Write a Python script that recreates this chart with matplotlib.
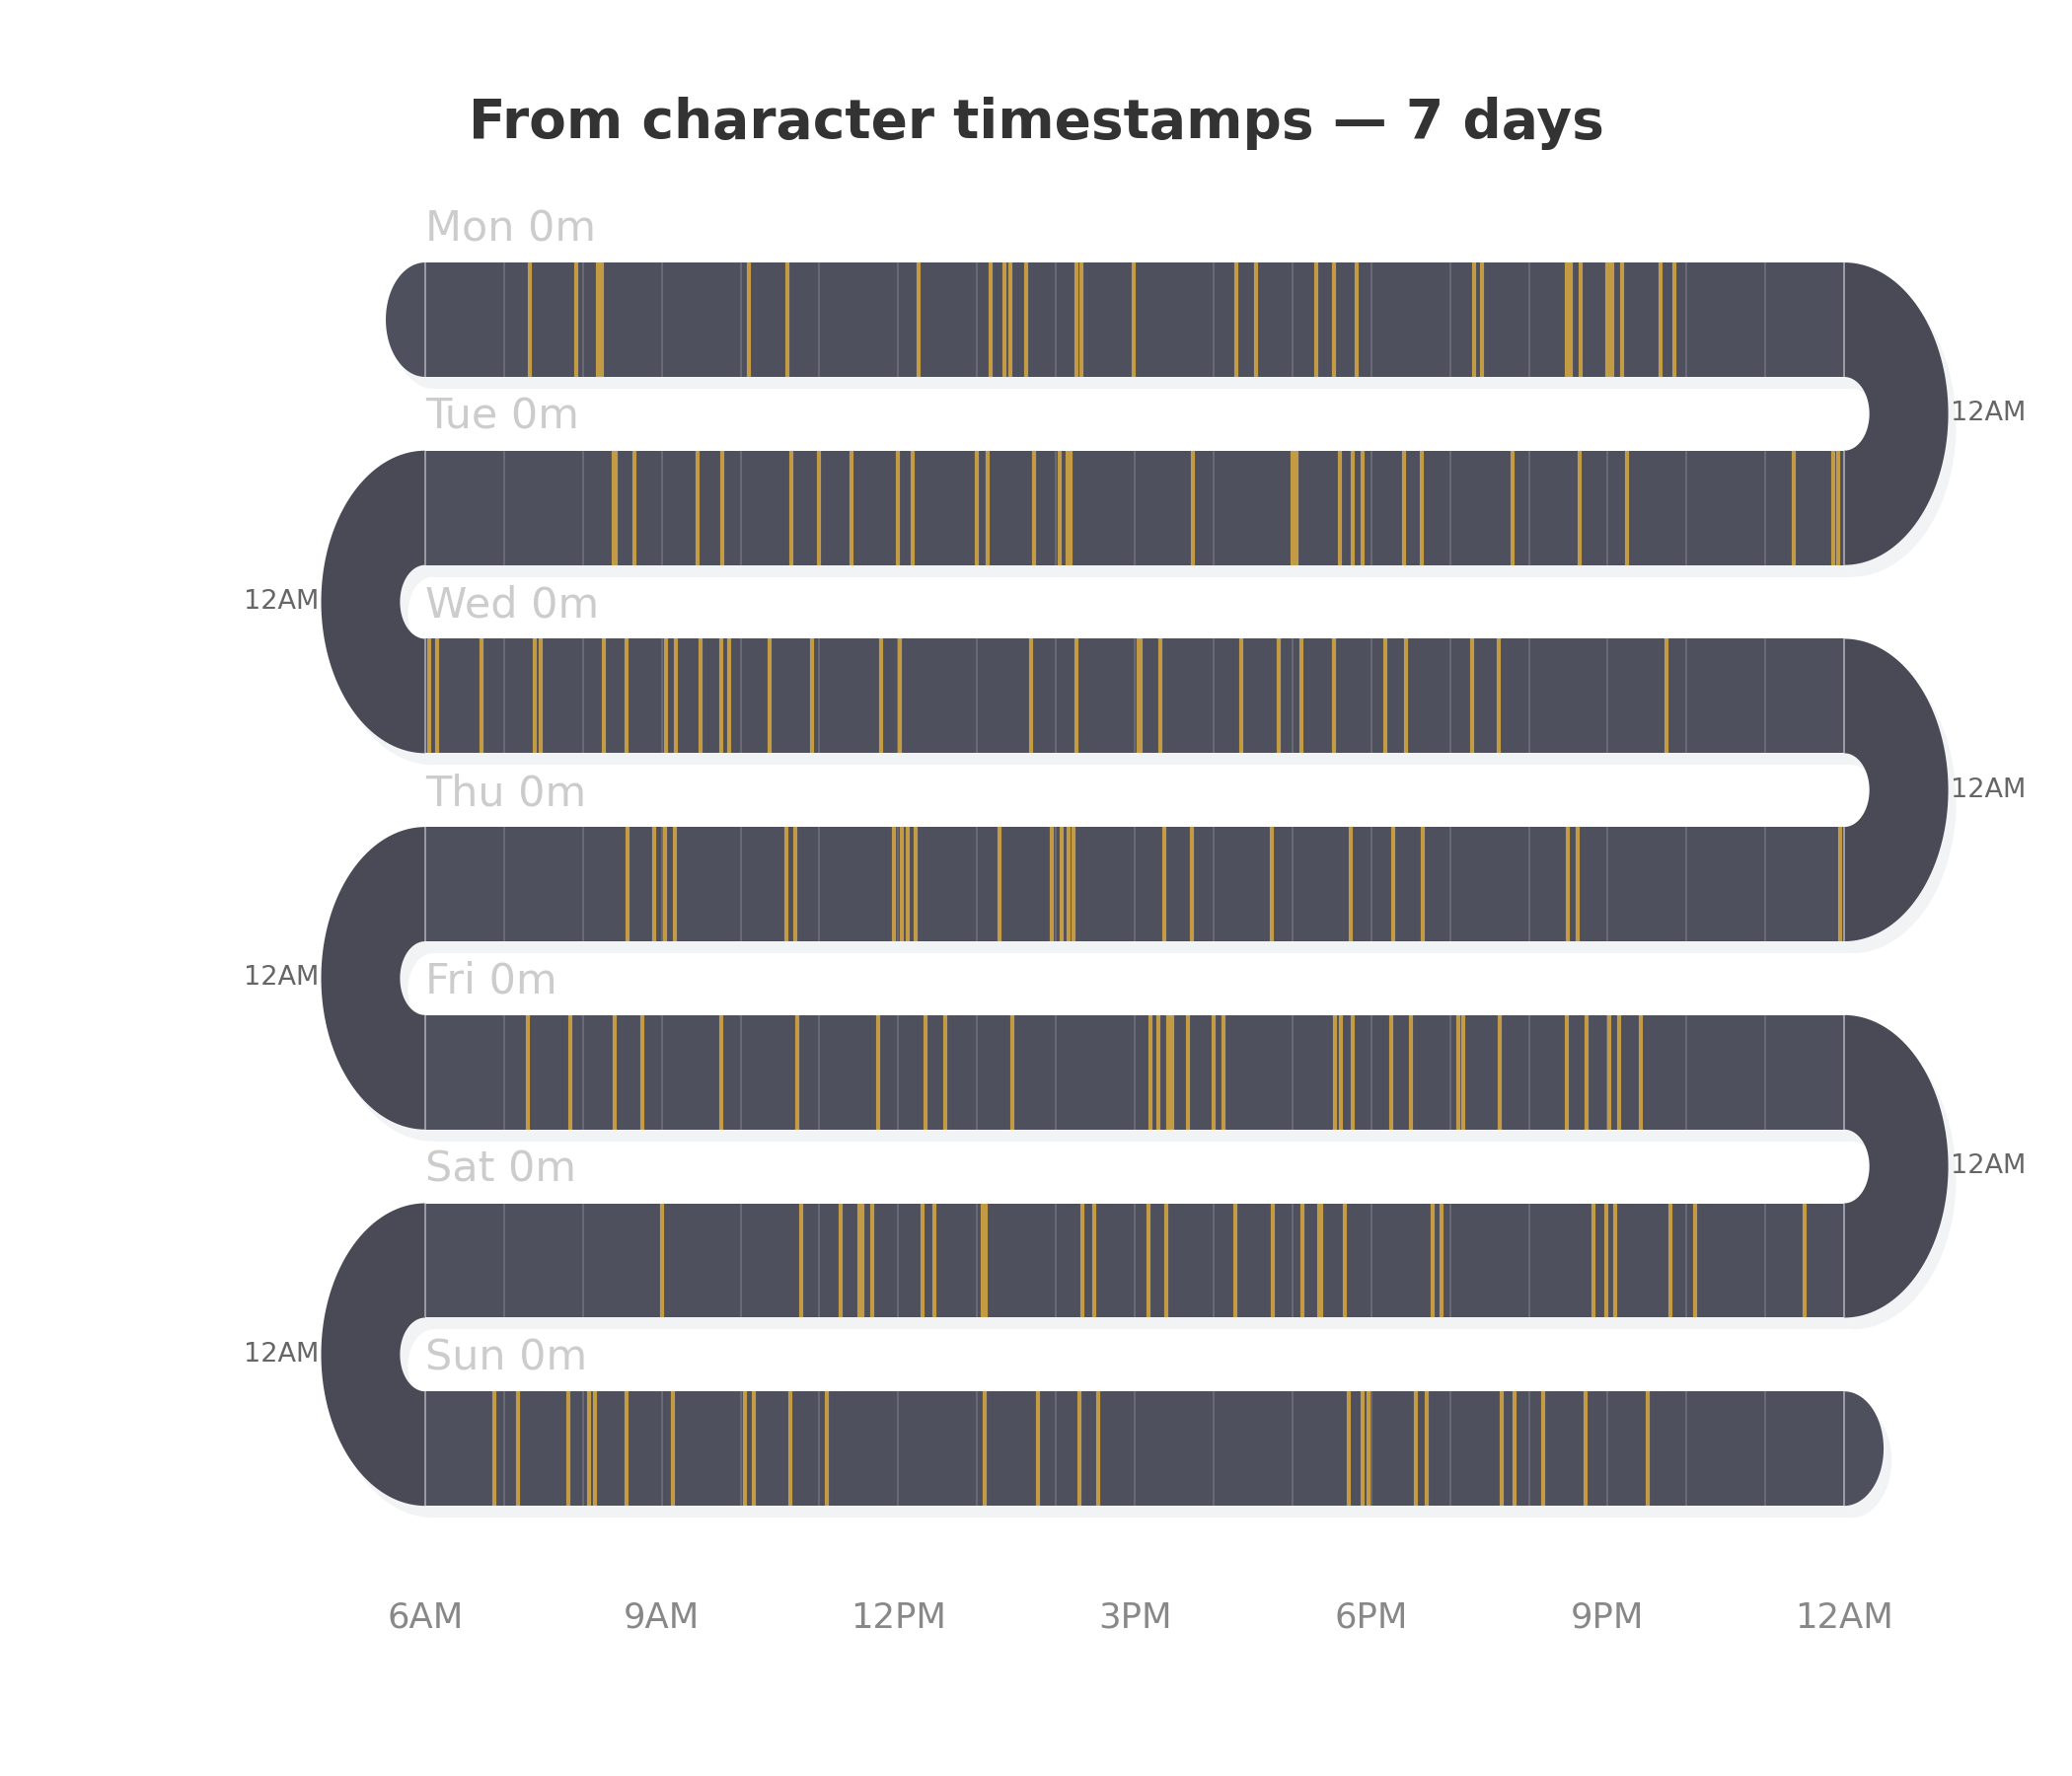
import numpy as np
import matplotlib
matplotlib.use("Agg")
import matplotlib.pyplot as plt
from matplotlib.patches import Polygon, Rectangle
from matplotlib import transforms

# ---- data: event times (decimal hour of day) per weekday ----
days = ["Mon", "Tue", "Wed", "Thu", "Fri", "Sat", "Sun"]
minutes = [0, 0, 0, 0, 0, 0, 0]

mon = [7.33, 7.91, 8.19, 8.24, 10.10, 10.59, 12.26, 13.17, 13.35, 13.42, 13.62, 14.26, 14.33,
       14.99, 16.29, 16.54, 17.30, 17.53, 17.81, 19.31, 19.40, 20.48, 20.53, 20.66, 20.99,
       21.02, 21.06, 21.18, 21.67, 21.85]
tue = [8.39, 8.42, 8.65, 9.46, 9.77, 10.65, 11.00, 11.41, 11.99, 12.18, 13.00, 13.13, 13.72,
       14.05, 14.15, 14.18, 15.74, 17.00, 17.05, 17.60, 17.76, 17.89, 18.42, 18.64, 19.79,
       20.65, 21.24, 23.36, 23.86, 23.92]
wed = [6.05, 6.15, 6.72, 7.39, 7.47, 8.27, 8.55, 9.06, 9.18, 9.49, 9.76, 9.86, 10.37, 10.91,
       11.78, 12.02, 13.69, 14.26, 15.05, 15.08, 15.32, 16.35, 16.83, 17.11, 17.53, 18.18,
       18.44, 19.28, 19.62, 21.74]
thu = [8.57, 8.91, 9.04, 9.17, 10.58, 10.70, 11.95, 12.05, 12.12, 12.22, 13.29, 13.95, 14.07,
       14.16, 14.22, 15.38, 15.73, 16.74, 17.74, 18.28, 18.65, 20.50, 20.62, 23.95]
fri = [7.30, 7.84, 8.40, 8.75, 9.76, 10.72, 11.74, 12.34, 12.60, 13.45, 15.20, 15.30, 15.43,
       15.47, 15.68, 16.00, 16.13, 17.54, 17.62, 17.76, 18.26, 18.50, 19.10, 19.17, 19.63,
       20.48, 20.73, 21.02, 21.14, 21.42]
sat = [9.01, 10.77, 11.27, 11.51, 11.55, 11.67, 12.31, 12.46, 13.07, 13.11, 14.34, 14.49,
       15.17, 15.40, 16.28, 16.75, 17.13, 17.34, 17.37, 17.66, 18.78, 18.89, 20.82, 20.98,
       21.09, 21.80, 22.11, 23.50]
sun = [6.88, 7.18, 7.82, 8.08, 8.15, 8.55, 9.14, 10.05, 10.17, 10.63, 11.09, 13.10, 13.77,
       14.30, 14.54, 17.72, 17.89, 17.96, 18.57, 18.71, 19.65, 19.82, 20.18, 20.72, 21.51]
events = [mon, tue, wed, thu, fri, sat, sun]

tick_hours = [6, 9, 12, 15, 18, 21, 24]
tick_labels = ["6AM", "9AM", "12PM", "3PM", "6PM", "9PM", "12AM"]

# ---- style ----
BAND = "#4f505d"
TURN = "#4a4a57"
GOLD = "#c39b45"
SHADOW = "#f2f3f5"
START, END = 6, 24
HALF = 0.304          # half band height (row spacing = 1)
A_OUT, A_IN = 1.32, 0.32   # horizontal radii of the turns (hours)
CAP = 0.5

fig = plt.figure(figsize=(14, 12), dpi=150)
ax = fig.add_axes([0, 0, 1, 1])
ax.set_xlim(0.606, 26.89)
ax.set_ylim(7.740, -1.699)
ax.axis("off")


def half_ellipse(cx, cy, a, b, side, n=80):
    t = np.linspace(-np.pi / 2, np.pi / 2, n)
    return np.column_stack([cx + side * a * np.cos(t), cy + b * np.sin(t)])


def turn(cx, cy, side):
    outer = half_ellipse(cx, cy, A_OUT, 0.5 + HALF, side)
    inner = half_ellipse(cx, cy, A_IN, 0.5 - HALF, side)[::-1]
    return np.vstack([outer, inner])


shapes = []
for i in range(len(days)):
    shapes.append((Rectangle((START, i - HALF), END - START, 2 * HALF), BAND))
for i in range(len(days) - 1):
    side = 1 if i % 2 == 0 else -1
    cx = END if side == 1 else START
    shapes.append((Polygon(turn(cx, i + 0.5, side), closed=True), TURN))
shapes.append((Polygon(half_ellipse(START, 0, CAP, HALF, -1), closed=True), BAND))
shapes.append((Polygon(half_ellipse(END, len(days) - 1, CAP, HALF, 1), closed=True), BAND))

# soft drop shadow: same shapes shifted right/down
shadow_tr = transforms.offset_copy(ax.transData, fig=fig, x=8, y=-12, units="dots")
for patch, color in shapes:
    sh = Polygon(patch.get_verts(), closed=True, facecolor=SHADOW, edgecolor="none",
                 transform=shadow_tr, zorder=1)
    ax.add_patch(sh)
for patch, color in shapes:
    patch.set_facecolor(color)
    patch.set_edgecolor("none")
    patch.set_zorder(2)
    ax.add_patch(patch)

# hour grid + events inside each band
for i in range(len(days)):
    hours = np.arange(START, END + 1)
    cols = ["#a9a9b2" if h in (START, END) else "#6f6f7b" for h in hours]
    ax.vlines(hours, i - HALF, i + HALF, colors=cols, lw=0.8, zorder=3)
    ax.vlines(events[i], i - HALF, i + HALF, colors=GOLD, lw=2.0, zorder=4)
    ax.text(START, i - HALF - 0.115, f"{days[i]} {minutes[i]}m", fontsize=20.6,
            color="#cccccc", ha="left", va="baseline", zorder=5)

# 12AM labels on the turns
for i in range(len(days) - 1):
    if i % 2 == 0:
        ax.text(END + A_OUT + 0.03, i + 0.5, "12AM", fontsize=13, color="#666666",
                ha="left", va="center")
    else:
        ax.text(START - A_OUT - 0.03, i + 0.5, "12AM", fontsize=13, color="#666666",
                ha="right", va="center")

for h, lab in zip(tick_hours, tick_labels):
    ax.text(h, 6.90, lab, fontsize=17, color="#888888", ha="center", va="center")

fig.text(0.5, 1 - 125 / 1800, "From character timestamps \u2014 7 days", fontsize=26.4,
         fontweight="bold", color="#333333", ha="center", va="center")

fig.savefig("out.png", dpi=150, facecolor="white")
